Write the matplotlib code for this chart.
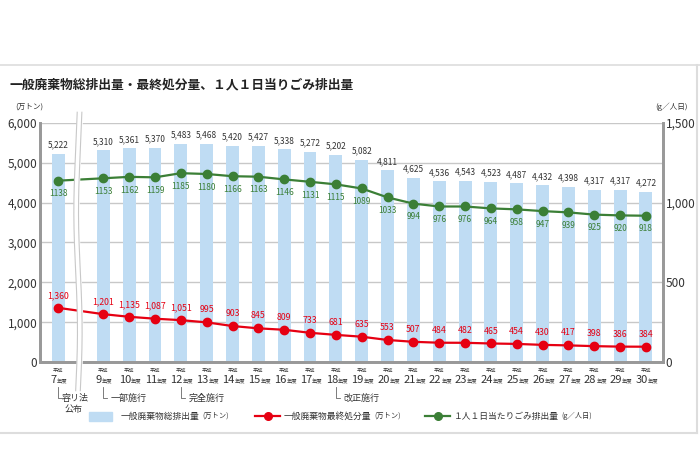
import numpy as np
import matplotlib
matplotlib.use("Agg")
import matplotlib.pyplot as plt
import matplotlib.transforms as mtransforms
from matplotlib.lines import Line2D
from matplotlib.patches import Rectangle

plt.rcParams['font.family'] = ['Noto Sans CJK JP', 'DejaVu Sans']

years = [7, 9, 10, 11, 12, 13, 14, 15, 16, 17, 18, 19, 20, 21, 22, 23, 24, 25, 26, 27, 28, 29, 30]
total = [5222, 5310, 5361, 5370, 5483, 5468, 5420, 5427, 5338, 5272, 5202, 5082,
         4811, 4625, 4536, 4543, 4523, 4487, 4432, 4398, 4317, 4317, 4272]
final = [1360, 1201, 1135, 1087, 1051, 995, 903, 845, 809, 733, 681, 635,
         553, 507, 484, 482, 465, 454, 430, 417, 398, 386, 384]
per_capita = [1138, 1153, 1162, 1159, 1185, 1180, 1166, 1163, 1146, 1131, 1115, 1089,
              1033, 994, 976, 976, 964, 958, 947, 939, 925, 920, 918]
notes = {7: "容リ法\n公布", 9: "一部施行", 12: "完全施行", 18: "改正施行"}

BLUE = "#bfdcf3"
RED = "#e60012"
GREEN = "#3b7f36"
GRAY = "#999999"
TXT = "#333333"

# position: gap after year 7 for the axis break
x = np.array([0.0] + [1.75 + i for i in range(len(years) - 1)])

fig = plt.figure(figsize=(7, 4.65), dpi=100)
ax = fig.add_axes([40 / 700, 1 - 362 / 465, 623 / 700, 239 / 465])
ax2 = ax.twinx()

ax.set_xlim(-0.70, 23.41)
ax.set_ylim(0, 6000)
ax2.set_ylim(0, 1500)
ax.set_yticks(range(0, 6001, 1000))
ax.set_yticklabels([f"{v:,}" for v in range(0, 6001, 1000)])
ax2.set_yticks(range(0, 1501, 500))
ax2.set_yticklabels([f"{v:,}" for v in range(0, 1501, 500)])
ax.set_xticks([])
ax.grid(axis='y', color="#c8c8c8", lw=1)
ax.set_axisbelow(True)

for a in (ax, ax2):
    a.spines['top'].set_visible(False)
    for s in ('left', 'right', 'bottom'):
        a.spines[s].set_color(GRAY)
        a.spines[s].set_linewidth(2)
    a.tick_params(axis='y', length=0, labelsize=8.5, labelcolor=TXT, pad=2)

ax.bar(x, total, width=0.5, color=BLUE, zorder=2)
for xi, v in zip(x, total):
    ax.text(xi, v + 110, f"{v:,}", ha='center', va='bottom', fontsize=6, color=TXT)

ax.plot(x, final, color=RED, lw=1.6, marker='o', ms=6, zorder=4)
for xi, v in zip(x, final):
    ax.text(xi, v + 200, f"{v:,}", ha='center', va='bottom', fontsize=6.3, color=RED, zorder=5)

ax2.plot(x, per_capita, color=GREEN, lw=1.6, marker='o', ms=6, zorder=4)
for xi, v in zip(x, per_capita):
    ax2.text(xi, v - 55, f"{v}", ha='center', va='top', fontsize=6, color=GREEN)

# axis break
blend = mtransforms.blended_transform_factory(ax.transData, ax.transAxes)
yy = np.linspace(-0.12, 1.045, 200)
xc = 0.77 + 0.07 * np.sin((yy + 0.12) * 2 * np.pi * 1.0)
ax2.fill_betweenx(yy, xc - 0.09, xc + 0.09, color='white', transform=blend, clip_on=False, zorder=6)
ax2.plot(xc - 0.09, yy, color="#c8c8c8", lw=0.8, transform=blend, clip_on=False, zorder=7)
ax2.plot(xc + 0.09, yy, color="#c8c8c8", lw=0.8, transform=blend, clip_on=False, zorder=7)

def py(p):
    return (362 - p) / 239

# x labels
for xi, yr in zip(x, years):
    ax.text(xi, py(370), "平成", transform=blend, ha='center', va='center', fontsize=3.8, color=TXT)
    s = str(yr)
    off = -0.05 if len(s) == 1 else 0.08
    ax.text(xi + off, py(380), s, transform=blend, ha='right', va='center', fontsize=8, color=TXT)
    ax.text(xi + off, py(381.5), "年度", transform=blend, ha='left', va='center', fontsize=3.8, color=TXT)

# notes
for yr, label in notes.items():
    xi = x[years.index(yr)]
    ax.plot([xi, xi, xi + 0.15], [py(387), py(398), py(398)], color="#666666", lw=0.6,
            transform=blend, clip_on=False)
    if "\n" in label:
        l1, l2 = label.split("\n")
        ax.text(xi + 0.12, py(398), l1, transform=blend, ha='left', va='center', fontsize=6.5, color=TXT)
        ax.text(xi + 0.25, py(409), l2, transform=blend, ha='left', va='center', fontsize=6.5, color=TXT)
    else:
        ax.text(xi + 0.3, py(398), label, transform=blend, ha='left', va='center', fontsize=6.5, color=TXT)

# units
fig.text(15 / 700, 1 - 107 / 465, "(万トン)", fontsize=5.5, color=TXT, va='center')
fig.text(655 / 700, 1 - 107 / 465, "(g／人日)", fontsize=5.5, color=TXT, va='center')

# title
fig.text(10 / 700, 1 - 85 / 465, "一般廃棄物総排出量・最終処分量、１人１日当りごみ排出量",
         fontsize=9.2, fontweight='bold', color="#222222", va='center')

# legend
ly = 1 - 416 / 465

def legend_text(x0, main, unit):
    t = fig.text(x0 / 700, ly, main, fontsize=6.3, color=TXT, va='center')
    ax.annotate(unit, xy=(1, 0.5), xycoords=t, xytext=(2, 0), textcoords='offset points',
                fontsize=5.2, color=TXT, va='center', ha='left', annotation_clip=False)

fig.add_artist(Rectangle((89 / 700, 1 - 421 / 465), 23 / 700, 9 / 465, color=BLUE, transform=fig.transFigure))
legend_text(121, "一般廃棄物総排出量", "(万トン)")
fig.add_artist(Line2D([255 / 700, 280 / 700], [ly, ly], color=RED, lw=1.6, transform=fig.transFigure))
fig.add_artist(Line2D([267.5 / 700], [ly], color=RED, marker='o', ms=5.5, transform=fig.transFigure))
legend_text(284, "一般廃棄物最終処分量", "(万トン)")
fig.add_artist(Line2D([425 / 700, 450 / 700], [ly, ly], color=GREEN, lw=1.6, transform=fig.transFigure))
fig.add_artist(Line2D([437.5 / 700], [ly], color=GREEN, marker='o', ms=5.5, transform=fig.transFigure))
legend_text(454, "１人１日当たりごみ排出量", "(g／人日)")

# panel border
bc = "#dddddd"
fig.add_artist(Line2D([0, 1], [1 - 65 / 465, 1 - 65 / 465], color=bc, lw=1.2, transform=fig.transFigure))
fig.add_artist(Line2D([0, 697 / 700], [1 - 433 / 465, 1 - 433 / 465], color=bc, lw=1.5, transform=fig.transFigure))
fig.add_artist(Line2D([697 / 700, 697 / 700], [1 - 65 / 465, 1 - 433 / 465], color=bc, lw=1.5, transform=fig.transFigure))

fig.savefig("out.png", dpi=100)
